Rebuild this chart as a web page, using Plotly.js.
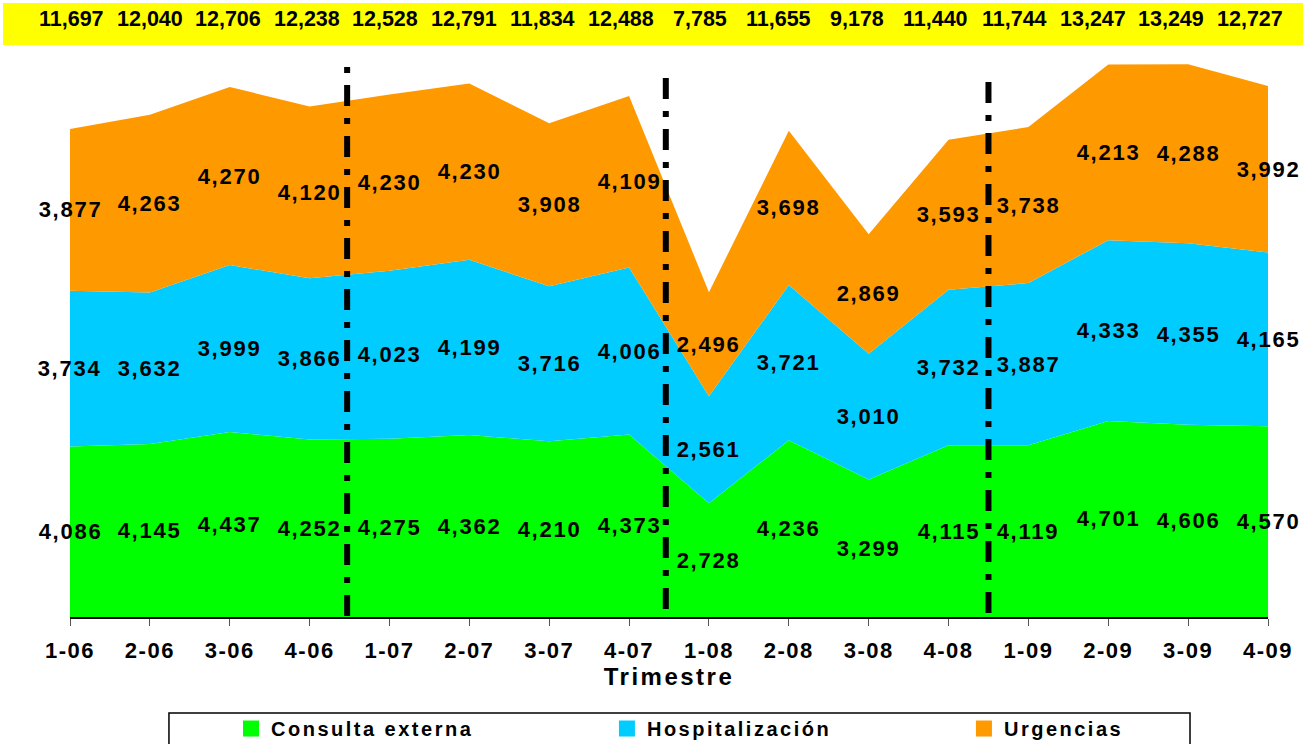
<!DOCTYPE html>
<html>
<head>
<meta charset="utf-8">
<script src="https://cdn.plot.ly/plotly-3.0.1.min.js"></script>
<style>
html,body{margin:0;padding:0;background:#ffffff;}
#chart{width:1303px;height:744px;}
.xtick text{letter-spacing:1.5px;}
.xtitle{letter-spacing:2.5px;}
.legendtext{letter-spacing:2.5px;}
</style>
</head>
<body>
<div id="chart"></div>
<script>
// ---- data ----
const trimestres = ['1-06','2-06','3-06','4-06','1-07','2-07','3-07','4-07',
                    '1-08','2-08','3-08','4-08','1-09','2-09','3-09','4-09'];
const consultaExterna = [4086,4145,4437,4252,4275,4362,4210,4373,2728,4236,3299,4115,4119,4701,4606,4570];
const hospitalizacion = [3734,3632,3999,3866,4023,4199,3716,4006,2561,3721,3010,3732,3887,4333,4355,4165];
const urgencias       = [3877,4263,4270,4120,4230,4230,3908,4109,2496,3698,2869,3593,3738,4213,4288,3992];
const totales         = [11697,12040,12706,12238,12528,12791,11834,12488,7785,11655,9178,11440,11744,13247,13249,12727];
const nombres = ['Consulta externa','Hospitalización','Urgencias'];
const ejeTitulo = 'Trimestre';

// ---- styling ----
const colores = ['#00FF00','#00CCFF','#FF9900'];
const series = [consultaExterna, hospitalizacion, urgencias];
const FONT = '"Liberation Sans", Arial, sans-serif';

const traces = [];
series.forEach((vals, k) => {
  traces.push({
    type: 'scatter', x: trimestres, y: vals, name: nombres[k],
    stackgroup: 'one', mode: 'none', fill: 'tonexty',
    fillcolor: colores[k], line: {width: 0}, hoverinfo: 'skip', showlegend: false
  });
});
// legend entries (square swatches), one legend per entry
const legendIds = ['legend', 'legend2', 'legend3'];
series.forEach((vals, k) => {
  traces.push({
    type: 'scatter', x: [null], y: [null], name: nombres[k], mode: 'markers',
    marker: {symbol: 'square', size: 16, color: colores[k]},
    legend: legendIds[k], showlegend: true, hoverinfo: 'skip'
  });
});

// annotations: totals row on top
const annotations = [];
totales.forEach((t, i) => {
  annotations.push({
    xref: 'x2', yref: 'paper', x: i, y: 1.069, text: t.toLocaleString('en-US'),
    showarrow: false, xanchor: 'center', yanchor: 'middle',
    font: {family: FONT, size: 21.5, color: '#000', weight: 'bold'}
  });
});
// data labels at middle of each stacked band
const base = trimestres.map(() => 0);
series.forEach((vals, k) => {
  vals.forEach((v, i) => {
    annotations.push({
      xref: 'x', yref: 'y', x: trimestres[i], y: base[i] + v / 2,
      text: v.toLocaleString('en-US'), showarrow: false,
      xanchor: 'center', yanchor: 'middle',
      font: {family: FONT, size: 22, color: '#000', weight: 'bold'}
    });
    base[i] += v;
  });
});

// separators between years (dash-dot)
const separadores = [{x: 3.47, y0: 25, y1: 13330}, {x: 7.46, y0: 190, y1: 13040}, {x: 11.5, y0: 95, y1: 12950}];
const shapes = [
  {type: 'rect', xref: 'paper', yref: 'paper', x0: -0.0559, x1: 1.0292, y0: 1.0233, y1: 1.0984,
   fillcolor: '#FFFF00', line: {width: 0}, layer: 'below'},
  {type: 'rect', xref: 'paper', yref: 'paper', x0: 0.0826, x1: 0.9349, y0: -0.1717, y1: -0.30,
   fillcolor: 'rgba(0,0,0,0)', line: {width: 1.5, color: '#000'}}
];
separadores.forEach(s => {
  shapes.push({type: 'line', xref: 'x', yref: 'y', x0: s.x, x1: s.x, y0: s.y0, y1: s.y1,
    line: {color: '#000', width: 6, dash: '21px,12px,6px,12px'}});
});

const legendBase = {orientation: 'h', xanchor: 'left', yanchor: 'middle', y: -0.1995,
  bgcolor: 'rgba(0,0,0,0)', borderwidth: 0, entrywidth: 260, entrywidthmode: 'pixels',
  font: {family: FONT, size: 20, color: '#000', weight: 'bold'}};

const layout = {
  width: 1303, height: 744,
  margin: {l: 70, r: 35, t: 58, b: 127, autoexpand: false},
  paper_bgcolor: '#ffffff', plot_bgcolor: '#ffffff',
  font: {family: FONT, color: '#000'},
  xaxis: {
    type: 'category', categoryorder: 'array', categoryarray: trimestres,
    range: [0, 15], showgrid: false, zeroline: false, automargin: false,
    showline: true, linecolor: '#000', linewidth: 1.5,
    ticks: 'outside', ticklen: 7, tickwidth: 1, tickcolor: '#555',
    ticklabelstandoff: 6,
    tickfont: {family: FONT, size: 22, color: '#000', weight: 'bold'},
    title: {text: ejeTitulo, standoff: 4, font: {family: FONT, size: 24, color: '#000', weight: 'bold'}},
    fixedrange: true
  },
  xaxis2: {overlaying: 'x', type: 'linear', range: [-0.0127, 15.229], visible: false, fixedrange: true},
  yaxis: {range: [0, 13400], visible: false, showgrid: false, zeroline: false, fixedrange: true, automargin: false},
  legend: Object.assign({}, legendBase, {x: 0.1344}),
  legend2: Object.assign({}, legendBase, {x: 0.4482}),
  legend3: Object.assign({}, legendBase, {x: 0.7462}),
  annotations: annotations,
  shapes: shapes,
  showlegend: true
};

function spaceText() {
  document.querySelectorAll('g.annotation').forEach(g => {
    const idx = parseInt(g.getAttribute('data-index'), 10);
    if (idx >= totales.length) {
      const t = g.querySelector('text');
      if (t) t.style.letterSpacing = '1.75px';
    }
  });
  document.querySelectorAll('#chart text').forEach(t => {
    if (nombres.indexOf(t.textContent) >= 0) t.style.letterSpacing = '2.5px';
  });
}

Plotly.newPlot('chart', traces, layout, {displayModeBar: false, staticPlot: true}).then(() => {
  spaceText();
  requestAnimationFrame(spaceText);
  setTimeout(spaceText, 50);
  setTimeout(spaceText, 300);
});
</script>
</body>
</html>
